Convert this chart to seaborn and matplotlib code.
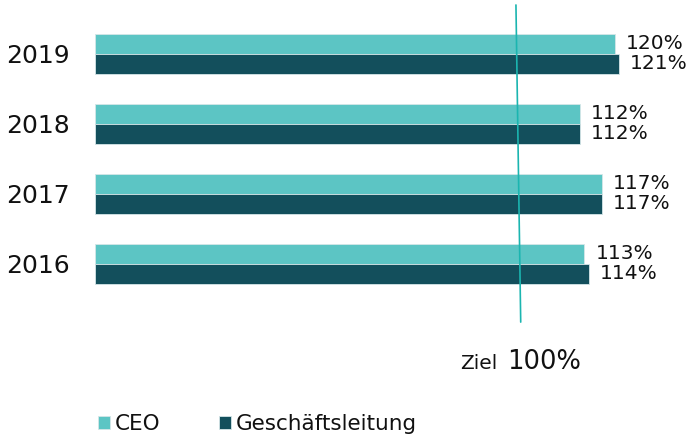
import pandas as pd
import matplotlib
matplotlib.use('Agg')
import matplotlib.pyplot as plt
import seaborn as sns

# Daten
jahre = ['2019', '2018', '2017', '2016']
ceo = [120, 112, 117, 113]
geschaeftsleitung = [121, 112, 117, 114]
serien = ['CEO', 'Geschäftsleitung']
farben = ['#5CC5C4', '#134F5C']

# Ziel-Linie (im Bild leicht schräg gezeichnet)
ziel_x = [97.2, 98.3]
ziel_y = [-0.70, 3.83]

df = pd.DataFrame({
    'Jahr': jahre * 2,
    'Wert': ceo + geschaeftsleitung,
    'Gruppe': [serien[0]] * len(jahre) + [serien[1]] * len(jahre),
})

sns.set_style('white')
plt.rcParams['font.family'] = ['DejaVu Sans']

fig = plt.figure(figsize=(6.91, 4.37), dpi=100)
ax = fig.add_axes([95 / 691, 107 / 437, 563 / 691, 330 / 437])

sns.barplot(data=df, x='Wert', y='Jahr', hue='Gruppe', order=jahre,
            hue_order=serien, palette=farben, saturation=1, width=0.571,
            orient='h', edgecolor='#d5e6e8', linewidth=0.6, ax=ax)

for cont in ax.containers:
    ax.bar_label(cont, labels=[f'{int(v)}%' for v in cont.datavalues],
                 padding=8, fontsize=14.5, color='#111111')

ax.plot(ziel_x, ziel_y, color='#1BB5B0', linewidth=1.2, zorder=5)

ax.set_xlim(0, 130)
ax.set_ylim(3.943, -0.771)
ax.set_xlabel('')
ax.set_ylabel('')
ax.set_xticks([])
ax.tick_params(axis='y', length=0, pad=18, labelsize=18, labelcolor='#111111')
sns.despine(ax=ax, left=True, bottom=True)

# Ziel-Beschriftung
fig.text(460 / 691, (437 - 369) / 437, 'Ziel', fontsize=14.5, color='#111111',
         va='baseline', ha='left')
fig.text(507 / 691, (437 - 369) / 437, '100%', fontsize=18.5, color='#111111',
         va='baseline', ha='left')

# Legende
handles, labels = ax.get_legend_handles_labels()
ax.get_legend().remove()
fig.legend(handles, labels, loc='center left',
           bbox_to_anchor=(98 / 691, (437 - 424) / 437),
           ncol=2, frameon=False, fontsize=15.5, handlelength=0.58,
           handleheight=0.58, handletextpad=0.2, columnspacing=2.7,
           borderpad=0, borderaxespad=0, labelcolor='#111111')

fig.savefig('out.png', dpi=100)
